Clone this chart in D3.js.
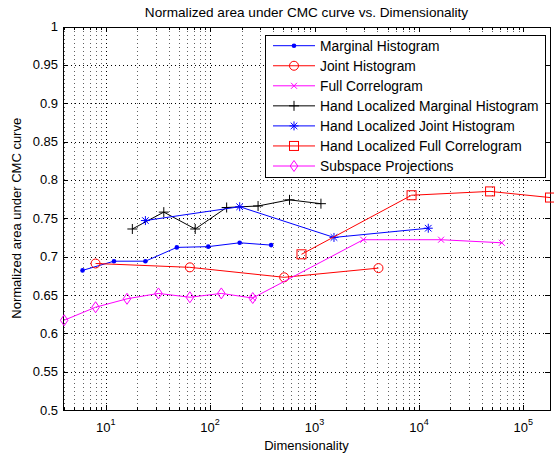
<!DOCTYPE html>
<html><head><meta charset="utf-8">
<script src="https://cdn.jsdelivr.net/npm/d3@7"></script>
<style>
html,body{margin:0;padding:0;background:#fff;}
svg{display:block;font-family:"Liberation Sans",Arial,sans-serif;}
</style></head>
<body>
<svg id="chart" width="554" height="457"></svg>
<script>
// ---- data ----
const marginalX = [6, 12, 24, 48, 96, 192, 384];
const marginalY = [0.682, 0.694, 0.694, 0.712, 0.713, 0.718, 0.715];
const jointX = [8, 64, 512, 4096];
const jointY = [0.691, 0.686, 0.673, 0.685];
const fullCorrX = [256, 2930, 16300, 62200];
const fullCorrY = [0.646, 0.722, 0.722, 0.718];
const hlMarginalX = [18, 36, 72, 144, 288, 576, 1152];
const hlMarginalY = [0.736, 0.758, 0.736, 0.764, 0.766, 0.774, 0.769];
const hlJointX = [24, 192, 1536, 12288];
const hlJointY = [0.747, 0.765, 0.725, 0.737];
const hlFullX = [750, 8500, 48000, 180000];
const hlFullY = [0.703, 0.780, 0.785, 0.777];
const subspaceX = [4, 8, 16, 32, 64, 128, 256];
const subspaceY = [0.617, 0.634, 0.645, 0.652, 0.647, 0.652, 0.646];

const seriesNames = ["Marginal Histogram","Joint Histogram","Full Correlogram",
  "Hand Localized Marginal Histogram","Hand Localized Joint Histogram",
  "Hand Localized Full Correlogram","Subspace Projections"];
const seriesColors = ["#0000ff","#ff0000","#ff00ff","#000000","#0000ff","#ff0000","#ff00ff"];
const seriesMarkers = ["dot","circle","x","plus","star","square","diamond"];
const seriesXs = [marginalX, jointX, fullCorrX, hlMarginalX, hlJointX, hlFullX, subspaceX];
const seriesYs = [marginalY, jointY, fullCorrY, hlMarginalY, hlJointY, hlFullY, subspaceY];

const yTicks = [0.5,0.55,0.6,0.65,0.7,0.75,0.8,0.85,0.9,0.95,1];
const yTickLabels = ["0.5","0.55","0.6","0.65","0.7","0.75","0.8","0.85","0.9","0.95","1"];
const xTickExps = [1,2,3,4,5];

const titleText = "Normalized area under CMC curve vs. Dimensionality";
const xLabelText = "Dimensionality";
const yLabelText = "Normalized area under CMC curve";

// ---- layout ----
const FS = "13px";
const L = 63, R = 550, T = 26.5, B = 410;
const svg = d3.select("#chart");
const x = d3.scaleLog().domain([3.9, 180000]).range([L, R]);
const y = d3.scaleLinear().domain([0.5, 1]).range([B, T]);

const minorX = [];
for (let e = 0; e <= 5; e++) for (let m = 1; m <= 9; m++) {
  const v = m * Math.pow(10, e);
  if (v >= 3.9 && v <= 180000) minorX.push(v);
}
const majorX = xTickExps.map(e => Math.pow(10, e));
const minorOnly = minorX.filter(v => !majorX.includes(v));

svg.append("rect").attr("x",L).attr("y",T).attr("width",R-L).attr("height",B-T).attr("fill","#fff");

const grid = svg.append("g").attr("shape-rendering","crispEdges");
grid.selectAll(".gxm").data(minorOnly).enter().append("line")
  .attr("x1",d=>Math.round(x(d))+0.5).attr("x2",d=>Math.round(x(d))+0.5)
  .attr("y1",T).attr("y2",B).attr("stroke","#606060").attr("stroke-dasharray","1,3");
grid.selectAll(".gxM").data(majorX).enter().append("line")
  .attr("x1",d=>Math.round(x(d))+0.5).attr("x2",d=>Math.round(x(d))+0.5)
  .attr("y1",T).attr("y2",B).attr("stroke","#000").attr("stroke-dasharray","1,3");
grid.selectAll(".gy").data(yTicks.slice(1,-1)).enter().append("line")
  .attr("y1",d=>Math.round(y(d))+0.5).attr("y2",d=>Math.round(y(d))+0.5)
  .attr("x1",L).attr("x2",R).attr("stroke","#000").attr("stroke-dasharray","1,3");

const ax = svg.append("g").attr("shape-rendering","crispEdges");
ax.append("rect").attr("x",L+0.5).attr("y",Math.round(T)+0.5).attr("width",R-L).attr("height",Math.round(B)-Math.round(T))
  .attr("fill","none").attr("stroke","#000");
yTicks.forEach(v => {
  const yy = Math.round(y(v)) + 0.5;
  ax.append("line").attr("x1",L).attr("x2",L+5).attr("y1",yy).attr("y2",yy).attr("stroke","#000");
  ax.append("line").attr("x1",R-5).attr("x2",R).attr("y1",yy).attr("y2",yy).attr("stroke","#000");
});
minorX.forEach(v => {
  const xx = Math.round(x(v)) + 0.5;
  const len = majorX.includes(v) ? 5 : 3;
  ax.append("line").attr("x1",xx).attr("x2",xx).attr("y1",B).attr("y2",B-len).attr("stroke","#000");
  ax.append("line").attr("x1",xx).attr("x2",xx).attr("y1",T).attr("y2",T+len).attr("stroke","#000");
});

svg.append("g").selectAll("text").data(yTicks).enter().append("text")
  .attr("x", L-5).attr("y", d => y(d)).attr("dy","0.35em")
  .attr("text-anchor","end").attr("font-size",FS).attr("fill","#000")
  .text((d,i)=>yTickLabels[i]);
const xl = svg.append("g");
xTickExps.forEach(e => {
  const t = xl.append("text").attr("x", x(Math.pow(10,e))).attr("y", 432)
    .attr("text-anchor","middle").attr("font-size",FS).attr("fill","#000");
  t.append("tspan").text("10");
  t.append("tspan").attr("dy","-7").attr("font-size","9px").text(String(e));
});

svg.append("text").attr("x",(L+R)/2).attr("y",17).attr("text-anchor","middle")
  .attr("font-size","13.6px").text(titleText);
svg.append("text").attr("x",(L+R)/2).attr("y",450).attr("text-anchor","middle")
  .attr("font-size",FS).text(xLabelText);
svg.append("text").attr("transform",`translate(21,${(T+B)/2}) rotate(-90)`).attr("text-anchor","middle")
  .attr("font-size",FS).text(yLabelText);

function drawMarker(g, type, cx, cy, color) {
  switch (type) {
    case "dot":
      g.append("circle").attr("cx",cx).attr("cy",cy).attr("r",2.3).attr("fill",color); break;
    case "circle":
      g.append("circle").attr("cx",cx).attr("cy",cy).attr("r",4.5).attr("fill","none").attr("stroke",color); break;
    case "square":
      g.append("rect").attr("x",cx-4.5).attr("y",cy-4.5).attr("width",9).attr("height",9).attr("fill","none").attr("stroke",color); break;
    case "x":
      g.append("path").attr("d",`M${cx-3},${cy-3}L${cx+3},${cy+3}M${cx-3},${cy+3}L${cx+3},${cy-3}`).attr("stroke",color).attr("fill","none"); break;
    case "plus":
      g.append("path").attr("d",`M${cx-5},${cy}L${cx+5},${cy}M${cx},${cy-5}L${cx},${cy+5}`).attr("stroke",color).attr("fill","none"); break;
    case "star":
      g.append("path").attr("d",`M${cx-4.5},${cy}L${cx+4.5},${cy}M${cx},${cy-4.5}L${cx},${cy+4.5}M${cx-3.3},${cy-3.3}L${cx+3.3},${cy+3.3}M${cx-3.3},${cy+3.3}L${cx+3.3},${cy-3.3}`).attr("stroke",color).attr("fill","none"); break;
    case "diamond":
      g.append("path").attr("d",`M${cx},${cy-5.5}L${cx+3.8},${cy}L${cx},${cy+5.5}L${cx-3.8},${cy}Z`).attr("stroke",color).attr("fill","none"); break;
  }
}

const plot = svg.append("g");
const line = d3.line().x(d=>x(d[0])).y(d=>y(d[1]));
seriesNames.forEach((name, i) => {
  const pts = seriesXs[i].map((v,j)=>[v, seriesYs[i][j]]);
  const g = plot.append("g");
  g.append("path").attr("d", line(pts)).attr("fill","none").attr("stroke",seriesColors[i]).attr("stroke-width",1);
  pts.forEach(p => drawMarker(g, seriesMarkers[i], x(p[0]), y(p[1]), seriesColors[i]));
});

const lg = svg.append("g");
const LX = 265, LY = 35, LW = 280, LH = 142;
lg.append("rect").attr("x",LX+0.5).attr("y",LY+0.5).attr("width",LW).attr("height",LH)
  .attr("fill","#fff").attr("stroke","#000").attr("shape-rendering","crispEdges");
seriesNames.forEach((name, i) => {
  const cy = 45.7 + i*20.05;
  lg.append("line").attr("x1",273).attr("x2",315).attr("y1",cy).attr("y2",cy).attr("stroke",seriesColors[i]);
  drawMarker(lg, seriesMarkers[i], 294, cy, seriesColors[i]);
  lg.append("text").attr("x",320).attr("y",cy).attr("dy","0.35em").attr("font-size","13.8px").text(name);
});
</script>
</body></html>
